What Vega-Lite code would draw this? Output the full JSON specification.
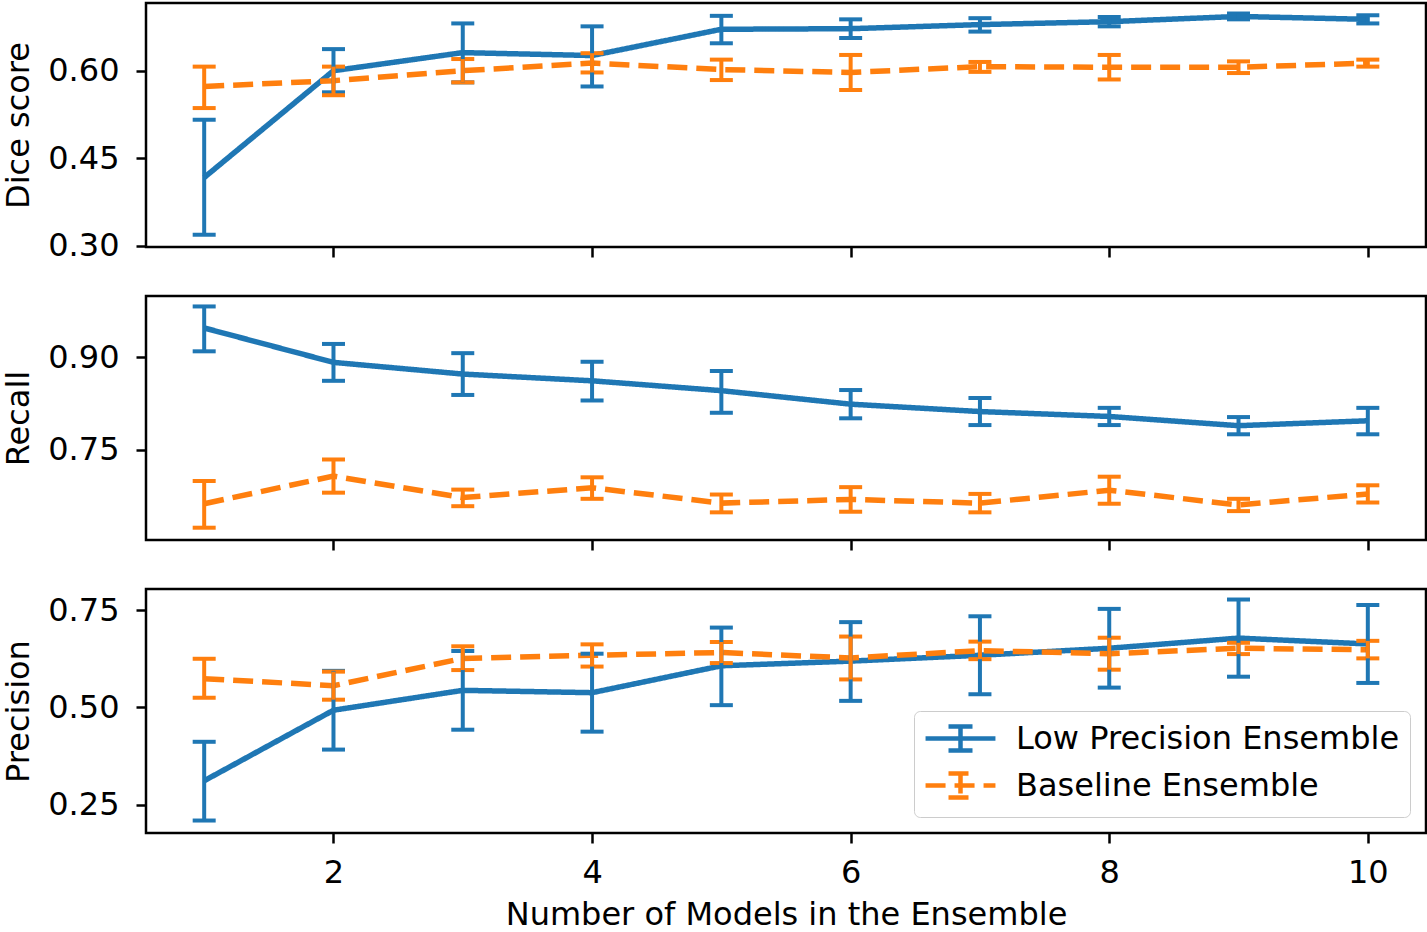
{
  "$schema": "https://vega.github.io/schema/vega-lite/v6.json",
  "padding": {"left": 1, "top": 1, "right": 2, "bottom": 0},
  "background": "white",
  "spacing": 49,
  "bounds": "flush",
  "config": {
    "font": "DejaVu Sans",
    "view": {"stroke": "black", "strokeWidth": 2.5},
    "axis": {
      "labelFont": "DejaVu Sans", "labelFontSize": 32, "labelColor": "black",
      "titleFont": "DejaVu Sans", "titleFontSize": 32, "titleFontWeight": "normal", "titleColor": "black",
      "tickColor": "black", "tickSize": 10, "tickWidth": 2.5, "domain": false, "grid": false,
      "labelPadding": 17, "titlePadding": 12
    }
  },
  "datasets": {
    "d": [
      {"metric": "Dice score", "model": "Low Precision Ensemble", "n": 1, "mean": 0.417, "lo": 0.319, "hi": 0.516},
      {"metric": "Dice score", "model": "Low Precision Ensemble", "n": 2, "mean": 0.600, "lo": 0.563, "hi": 0.637},
      {"metric": "Dice score", "model": "Low Precision Ensemble", "n": 3, "mean": 0.631, "lo": 0.580, "hi": 0.681},
      {"metric": "Dice score", "model": "Low Precision Ensemble", "n": 4, "mean": 0.626, "lo": 0.573, "hi": 0.676},
      {"metric": "Dice score", "model": "Low Precision Ensemble", "n": 5, "mean": 0.671, "lo": 0.647, "hi": 0.694},
      {"metric": "Dice score", "model": "Low Precision Ensemble", "n": 6, "mean": 0.672, "lo": 0.656, "hi": 0.688},
      {"metric": "Dice score", "model": "Low Precision Ensemble", "n": 7, "mean": 0.679, "lo": 0.667, "hi": 0.690},
      {"metric": "Dice score", "model": "Low Precision Ensemble", "n": 8, "mean": 0.684, "lo": 0.676, "hi": 0.692},
      {"metric": "Dice score", "model": "Low Precision Ensemble", "n": 9, "mean": 0.693, "lo": 0.688, "hi": 0.698},
      {"metric": "Dice score", "model": "Low Precision Ensemble", "n": 10, "mean": 0.688, "lo": 0.681, "hi": 0.695},
      {"metric": "Dice score", "model": "Baseline Ensemble", "n": 1, "mean": 0.573, "lo": 0.536, "hi": 0.607},
      {"metric": "Dice score", "model": "Baseline Ensemble", "n": 2, "mean": 0.583, "lo": 0.558, "hi": 0.607},
      {"metric": "Dice score", "model": "Baseline Ensemble", "n": 3, "mean": 0.600, "lo": 0.580, "hi": 0.620},
      {"metric": "Dice score", "model": "Baseline Ensemble", "n": 4, "mean": 0.613, "lo": 0.597, "hi": 0.630},
      {"metric": "Dice score", "model": "Baseline Ensemble", "n": 5, "mean": 0.602, "lo": 0.584, "hi": 0.619},
      {"metric": "Dice score", "model": "Baseline Ensemble", "n": 6, "mean": 0.597, "lo": 0.567, "hi": 0.627},
      {"metric": "Dice score", "model": "Baseline Ensemble", "n": 7, "mean": 0.607, "lo": 0.598, "hi": 0.615},
      {"metric": "Dice score", "model": "Baseline Ensemble", "n": 8, "mean": 0.606, "lo": 0.585, "hi": 0.627},
      {"metric": "Dice score", "model": "Baseline Ensemble", "n": 9, "mean": 0.606, "lo": 0.596, "hi": 0.616},
      {"metric": "Dice score", "model": "Baseline Ensemble", "n": 10, "mean": 0.613, "lo": 0.607, "hi": 0.619},
      {"metric": "Recall", "model": "Low Precision Ensemble", "n": 1, "mean": 0.948, "lo": 0.910, "hi": 0.983},
      {"metric": "Recall", "model": "Low Precision Ensemble", "n": 2, "mean": 0.892, "lo": 0.862, "hi": 0.922},
      {"metric": "Recall", "model": "Low Precision Ensemble", "n": 3, "mean": 0.873, "lo": 0.839, "hi": 0.907},
      {"metric": "Recall", "model": "Low Precision Ensemble", "n": 4, "mean": 0.862, "lo": 0.830, "hi": 0.893},
      {"metric": "Recall", "model": "Low Precision Ensemble", "n": 5, "mean": 0.846, "lo": 0.810, "hi": 0.878},
      {"metric": "Recall", "model": "Low Precision Ensemble", "n": 6, "mean": 0.824, "lo": 0.801, "hi": 0.847},
      {"metric": "Recall", "model": "Low Precision Ensemble", "n": 7, "mean": 0.812, "lo": 0.790, "hi": 0.834},
      {"metric": "Recall", "model": "Low Precision Ensemble", "n": 8, "mean": 0.804, "lo": 0.790, "hi": 0.818},
      {"metric": "Recall", "model": "Low Precision Ensemble", "n": 9, "mean": 0.789, "lo": 0.775, "hi": 0.803},
      {"metric": "Recall", "model": "Low Precision Ensemble", "n": 10, "mean": 0.797, "lo": 0.775, "hi": 0.818},
      {"metric": "Recall", "model": "Baseline Ensemble", "n": 1, "mean": 0.662, "lo": 0.623, "hi": 0.699},
      {"metric": "Recall", "model": "Baseline Ensemble", "n": 2, "mean": 0.707, "lo": 0.680, "hi": 0.734},
      {"metric": "Recall", "model": "Baseline Ensemble", "n": 3, "mean": 0.672, "lo": 0.658, "hi": 0.685},
      {"metric": "Recall", "model": "Baseline Ensemble", "n": 4, "mean": 0.688, "lo": 0.670, "hi": 0.705},
      {"metric": "Recall", "model": "Baseline Ensemble", "n": 5, "mean": 0.663, "lo": 0.648, "hi": 0.677},
      {"metric": "Recall", "model": "Baseline Ensemble", "n": 6, "mean": 0.669, "lo": 0.649, "hi": 0.689},
      {"metric": "Recall", "model": "Baseline Ensemble", "n": 7, "mean": 0.663, "lo": 0.648, "hi": 0.678},
      {"metric": "Recall", "model": "Baseline Ensemble", "n": 8, "mean": 0.684, "lo": 0.662, "hi": 0.706},
      {"metric": "Recall", "model": "Baseline Ensemble", "n": 9, "mean": 0.660, "lo": 0.650, "hi": 0.670},
      {"metric": "Recall", "model": "Baseline Ensemble", "n": 10, "mean": 0.678, "lo": 0.664, "hi": 0.692},
      {"metric": "Precision", "model": "Low Precision Ensemble", "n": 1, "mean": 0.312, "lo": 0.210, "hi": 0.412},
      {"metric": "Precision", "model": "Low Precision Ensemble", "n": 2, "mean": 0.493, "lo": 0.392, "hi": 0.594},
      {"metric": "Precision", "model": "Low Precision Ensemble", "n": 3, "mean": 0.544, "lo": 0.443, "hi": 0.645},
      {"metric": "Precision", "model": "Low Precision Ensemble", "n": 4, "mean": 0.538, "lo": 0.438, "hi": 0.638},
      {"metric": "Precision", "model": "Low Precision Ensemble", "n": 5, "mean": 0.607, "lo": 0.506, "hi": 0.705},
      {"metric": "Precision", "model": "Low Precision Ensemble", "n": 6, "mean": 0.619, "lo": 0.517, "hi": 0.719},
      {"metric": "Precision", "model": "Low Precision Ensemble", "n": 7, "mean": 0.634, "lo": 0.534, "hi": 0.734},
      {"metric": "Precision", "model": "Low Precision Ensemble", "n": 8, "mean": 0.652, "lo": 0.551, "hi": 0.753},
      {"metric": "Precision", "model": "Low Precision Ensemble", "n": 9, "mean": 0.678, "lo": 0.579, "hi": 0.777},
      {"metric": "Precision", "model": "Low Precision Ensemble", "n": 10, "mean": 0.663, "lo": 0.563, "hi": 0.763},
      {"metric": "Precision", "model": "Baseline Ensemble", "n": 1, "mean": 0.574, "lo": 0.525, "hi": 0.625},
      {"metric": "Precision", "model": "Baseline Ensemble", "n": 2, "mean": 0.556, "lo": 0.520, "hi": 0.592},
      {"metric": "Precision", "model": "Baseline Ensemble", "n": 3, "mean": 0.626, "lo": 0.596, "hi": 0.657},
      {"metric": "Precision", "model": "Baseline Ensemble", "n": 4, "mean": 0.634, "lo": 0.605, "hi": 0.662},
      {"metric": "Precision", "model": "Baseline Ensemble", "n": 5, "mean": 0.641, "lo": 0.614, "hi": 0.668},
      {"metric": "Precision", "model": "Baseline Ensemble", "n": 6, "mean": 0.627, "lo": 0.572, "hi": 0.682},
      {"metric": "Precision", "model": "Baseline Ensemble", "n": 7, "mean": 0.646, "lo": 0.624, "hi": 0.669},
      {"metric": "Precision", "model": "Baseline Ensemble", "n": 8, "mean": 0.638, "lo": 0.597, "hi": 0.679},
      {"metric": "Precision", "model": "Baseline Ensemble", "n": 9, "mean": 0.652, "lo": 0.637, "hi": 0.666},
      {"metric": "Precision", "model": "Baseline Ensemble", "n": 10, "mean": 0.648, "lo": 0.626, "hi": 0.671}
    ]
  },
  "vconcat": [
    {
      "width": 1280, "height": 244,
      "data": {"name": "d"},
      "transform": [{"filter": "datum.metric === 'Dice score'"}],
      "encoding": {
        "x": {"field": "n", "type": "quantitative", "scale": {"domain": [0.55, 10.45], "nice": false, "zero": false}, "axis": {"values": [2, 4, 6, 8, 10], "labels": false, "title": null}},
        "color": {"field": "model", "type": "nominal", "scale": {"domain": ["Low Precision Ensemble", "Baseline Ensemble"], "range": ["#1f77b4", "#ff7f0e"]}, "legend": null}
      },
      "layer": [
        {
          "mark": {"type": "line", "strokeWidth": 5.5, "opacity": 1},
          "encoding": {
            "y": {"field": "mean", "type": "quantitative", "scale": {"domain": [0.298, 0.716], "nice": false, "zero": false}, "axis": {"values": [0.30, 0.45, 0.60], "format": ".2f", "title": "Dice score"}},
            "strokeDash": {"field": "model", "type": "nominal", "scale": {"domain": ["Low Precision Ensemble", "Baseline Ensemble"], "range": [[1, 0], [20, 9]]}, "legend": null}
          }
        },
        {
          "mark": {"type": "errorbar", "thickness": 4, "rule": {"opacity": 1}, "ticks": {"size": 23, "thickness": 4, "opacity": 1}},
          "encoding": {
            "y": {"field": "lo", "type": "quantitative", "axis": {"values": [0.30, 0.45, 0.60], "format": ".2f", "title": "Dice score"}},
            "y2": {"field": "hi"}
          }
        }
      ]
    },
    {
      "width": 1280, "height": 244,
      "data": {"name": "d"},
      "transform": [{"filter": "datum.metric === 'Recall'"}],
      "encoding": {
        "x": {"field": "n", "type": "quantitative", "scale": {"domain": [0.55, 10.45], "nice": false, "zero": false}, "axis": {"values": [2, 4, 6, 8, 10], "labels": false, "title": null}},
        "color": {"field": "model", "type": "nominal", "scale": {"domain": ["Low Precision Ensemble", "Baseline Ensemble"], "range": ["#1f77b4", "#ff7f0e"]}, "legend": null}
      },
      "layer": [
        {
          "mark": {"type": "line", "strokeWidth": 5.5, "opacity": 1},
          "encoding": {
            "y": {"field": "mean", "type": "quantitative", "scale": {"domain": [0.603, 1.0], "nice": false, "zero": false}, "axis": {"values": [0.75, 0.90], "format": ".2f", "title": "Recall"}},
            "strokeDash": {"field": "model", "type": "nominal", "scale": {"domain": ["Low Precision Ensemble", "Baseline Ensemble"], "range": [[1, 0], [20, 9]]}, "legend": null}
          }
        },
        {
          "mark": {"type": "errorbar", "thickness": 4, "rule": {"opacity": 1}, "ticks": {"size": 23, "thickness": 4, "opacity": 1}},
          "encoding": {
            "y": {"field": "lo", "type": "quantitative", "axis": {"values": [0.75, 0.90], "format": ".2f", "title": "Recall"}},
            "y2": {"field": "hi"}
          }
        }
      ]
    },
    {
      "width": 1280, "height": 244,
      "data": {"name": "d"},
      "transform": [{"filter": "datum.metric === 'Precision'"}],
      "encoding": {
        "x": {"field": "n", "type": "quantitative", "scale": {"domain": [0.55, 10.45], "nice": false, "zero": false}, "axis": {"values": [2, 4, 6, 8, 10], "title": "Number of Models in the Ensemble", "labelPadding": 14, "titlePadding": 11}}
      },
      "layer": [
        {
          "mark": {"type": "line", "strokeWidth": 5.5, "opacity": 1},
          "encoding": {
            "y": {"field": "mean", "type": "quantitative", "scale": {"domain": [0.178, 0.804], "nice": false, "zero": false}, "axis": {"values": [0.25, 0.50, 0.75], "format": ".2f", "title": "Precision"}},
            "color": {"field": "model", "type": "nominal", "scale": {"domain": ["Low Precision Ensemble", "Baseline Ensemble"], "range": ["#1f77b4", "#ff7f0e"]},
              "legend": {"orient": "bottom-right", "title": null, "offset": 16, "labelFont": "DejaVu Sans", "labelFontSize": 32, "labelColor": "black", "labelLimit": 0, "symbolType": "M-2.33,0L2.33,0M0,-0.8L0,0.8M-0.8,-0.8L0.8,-0.8M-0.8,0.8L0.8,0.8", "symbolSize": 900, "symbolStrokeWidth": 4.5, "symbolOpacity": 1, "symbolOffset": 19, "fillColor": "white", "strokeColor": "#cccccc", "cornerRadius": 6, "padding": 10, "labelOffset": 38, "rowPadding": 4}},
            "strokeDash": {"field": "model", "type": "nominal", "scale": {"domain": ["Low Precision Ensemble", "Baseline Ensemble"], "range": [[1, 0], [20, 9]]},
              "legend": {"orient": "bottom-right", "title": null, "offset": 16, "labelFont": "DejaVu Sans", "labelFontSize": 32, "labelColor": "black", "labelLimit": 0, "symbolType": "M-2.33,0L2.33,0M0,-0.8L0,0.8M-0.8,-0.8L0.8,-0.8M-0.8,0.8L0.8,0.8", "symbolSize": 900, "symbolStrokeWidth": 4.5, "symbolOpacity": 1, "symbolOffset": 19, "fillColor": "white", "strokeColor": "#cccccc", "cornerRadius": 6, "padding": 10, "labelOffset": 38, "rowPadding": 4}}
          }
        },
        {
          "mark": {"type": "errorbar", "thickness": 4, "rule": {"opacity": 1}, "ticks": {"size": 23, "thickness": 4, "opacity": 1}},
          "encoding": {
            "y": {"field": "lo", "type": "quantitative", "axis": {"values": [0.25, 0.50, 0.75], "format": ".2f", "title": "Precision"}},
            "y2": {"field": "hi"},
            "color": {"field": "model", "type": "nominal", "scale": {"domain": ["Low Precision Ensemble", "Baseline Ensemble"], "range": ["#1f77b4", "#ff7f0e"]}}
          }
        }
      ]
    }
  ],
  "resolve": {"scale": {"y": "independent", "color": "independent", "strokeDash": "independent"}, "legend": {"color": "independent", "strokeDash": "independent"}}
}
